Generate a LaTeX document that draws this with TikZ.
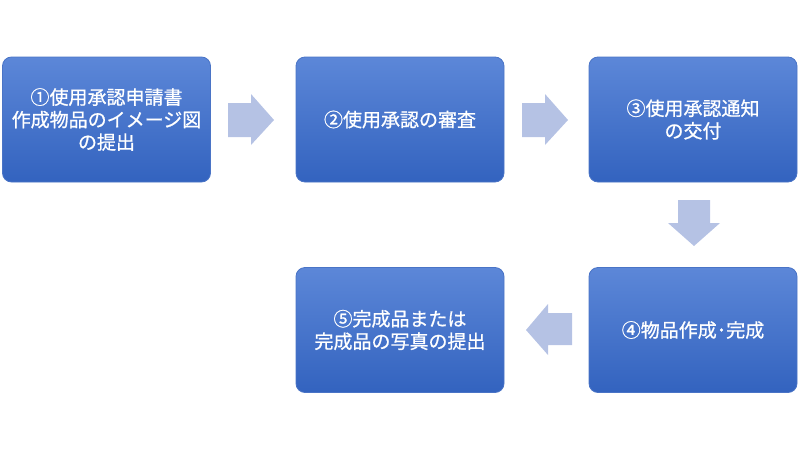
\documentclass[tikz,border=0pt]{standalone}
\usepackage{fontspec}
\newfontfamily\cjk[FakeBold=0.8]{Noto Sans CJK JP}
\usetikzlibrary{shapes.arrows}
\definecolor{boxtop}{HTML}{5C87D8}
\definecolor{boxbot}{HTML}{3363BF}
\definecolor{boxedge}{HTML}{4A74C6}
\definecolor{arrowc}{HTML}{B5C2E4}
\tikzset{
  stepbox/.style={rounded corners=9pt, top color=boxtop, bottom color=boxbot, draw=boxedge, line width=0.8pt,
    minimum width=208pt, minimum height=125pt, inner sep=0pt, text=white,
    font=\cjk\fontsize{19}{22.5}\selectfont, align=center},
  barrow/.style={fill=arrowc, draw=none}
}
\begin{document}
\begin{tikzpicture}[x=1pt,y=-1pt]
\useasboundingbox (0,0) rectangle (800,450);
\node[stepbox] (b1) at (106.5,119.5) {①使用承認申請書\\作成物品のイメージ図\\の提出};
\node[stepbox] (b2) at (400,119.5) {②使用承認の審査};
\node[stepbox] (b3) at (693,119.5) {③使用承認通知\\の交付};
\node[stepbox] (b4) at (693,330) {④物品作成･完成};
\node[stepbox] (b5) at (400,330) {⑤完成品または\\完成品の写真の提出};
% right arrow 1
\fill[barrow] (228,103) -- (251,103) -- (251,94) -- (274,120) -- (251,145) -- (251,137) -- (228,137) -- cycle;
% right arrow 2
\fill[barrow] (522,103) -- (545,103) -- (545,94) -- (568,120) -- (545,145) -- (545,137) -- (522,137) -- cycle;
% down arrow
\fill[barrow] (678,200) -- (710,200) -- (710,223) -- (720,223) -- (694,246) -- (668,223) -- (678,223) -- cycle;
% left arrow
\fill[barrow] (572,313) -- (548,313) -- (548,304) -- (526,330) -- (548,355) -- (548,345) -- (572,345) -- cycle;
\end{tikzpicture}
\end{document}
